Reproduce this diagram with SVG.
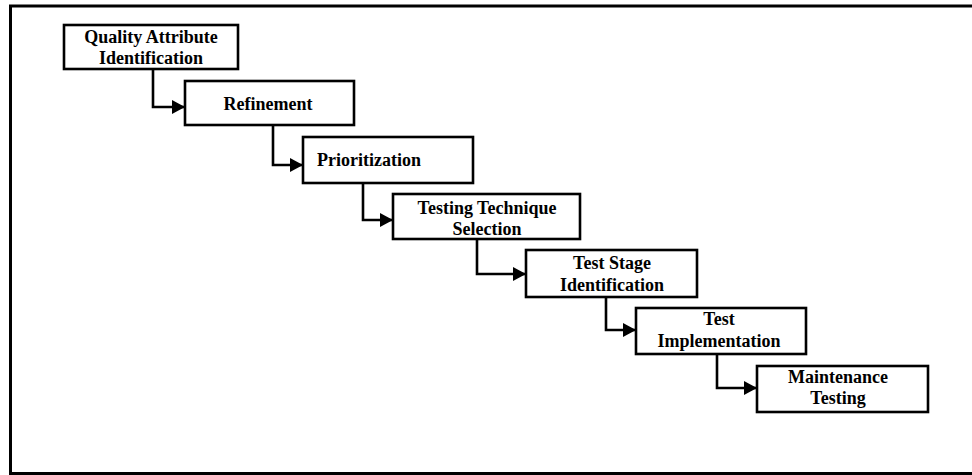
<svg xmlns="http://www.w3.org/2000/svg" width="972" height="475" viewBox="0 0 972 475">
<style>
.box{fill:#fff;stroke:#000;stroke-width:2.6}
.lbl{font-family:"Liberation Serif","Times New Roman",serif;font-size:18px;font-weight:bold;fill:#000}
.c{text-anchor:middle}
.conn{fill:none;stroke:#000;stroke-width:2.6;marker-end:url(#arr)}
.frame{fill:none;stroke:#000;stroke-width:3}
</style>
<defs>
<marker id="arr" markerUnits="userSpaceOnUse" markerWidth="14" markerHeight="15" refX="13" refY="7" orient="auto">
<path d="M0,0 L13,7 L0,14 z" fill="#000"/>
</marker>
</defs>
<rect width="972" height="475" fill="#fff"/>
<path class="frame" d="M975,6 H10.5 V473.5 H975"/>
<g id="connectors">
<path class="conn" d="M153,69 V107 H185"/>
<path class="conn" d="M273,125 V165 H303"/>
<path class="conn" d="M363,183 V220 H393"/>
<path class="conn" d="M477,239 V274 H526"/>
<path class="conn" d="M606,297 V330 H636"/>
<path class="conn" d="M717,354 V388 H757"/>
</g>
<g id="n1">
<rect class="box" x="64" y="25" width="174" height="44"/>
<text class="lbl c" x="151" y="43">Quality Attribute</text>
<text class="lbl c" x="151" y="64">Identification</text>
</g>
<g id="n2">
<rect class="box" x="185" y="81" width="169" height="44"/>
<text class="lbl c" x="268" y="110">Refinement</text>
</g>
<g id="n3">
<rect class="box" x="303" y="137" width="170" height="46"/>
<text class="lbl" x="317" y="166">Prioritization</text>
</g>
<g id="n4">
<rect class="box" x="393" y="194" width="187" height="45"/>
<text class="lbl c" x="487" y="214">Testing Technique</text>
<text class="lbl c" x="487" y="235">Selection</text>
</g>
<g id="n5">
<rect class="box" x="526" y="250" width="171" height="47"/>
<text class="lbl c" x="612" y="269">Test Stage</text>
<text class="lbl c" x="612" y="291">Identification</text>
</g>
<g id="n6">
<rect class="box" x="636" y="308" width="170" height="46"/>
<text class="lbl c" x="719" y="325">Test</text>
<text class="lbl c" x="719" y="347">Implementation</text>
</g>
<g id="n7">
<rect class="box" x="757" y="366" width="171" height="46"/>
<text class="lbl c" x="838" y="383">Maintenance</text>
<text class="lbl c" x="838" y="404">Testing</text>
</g>
</svg>
